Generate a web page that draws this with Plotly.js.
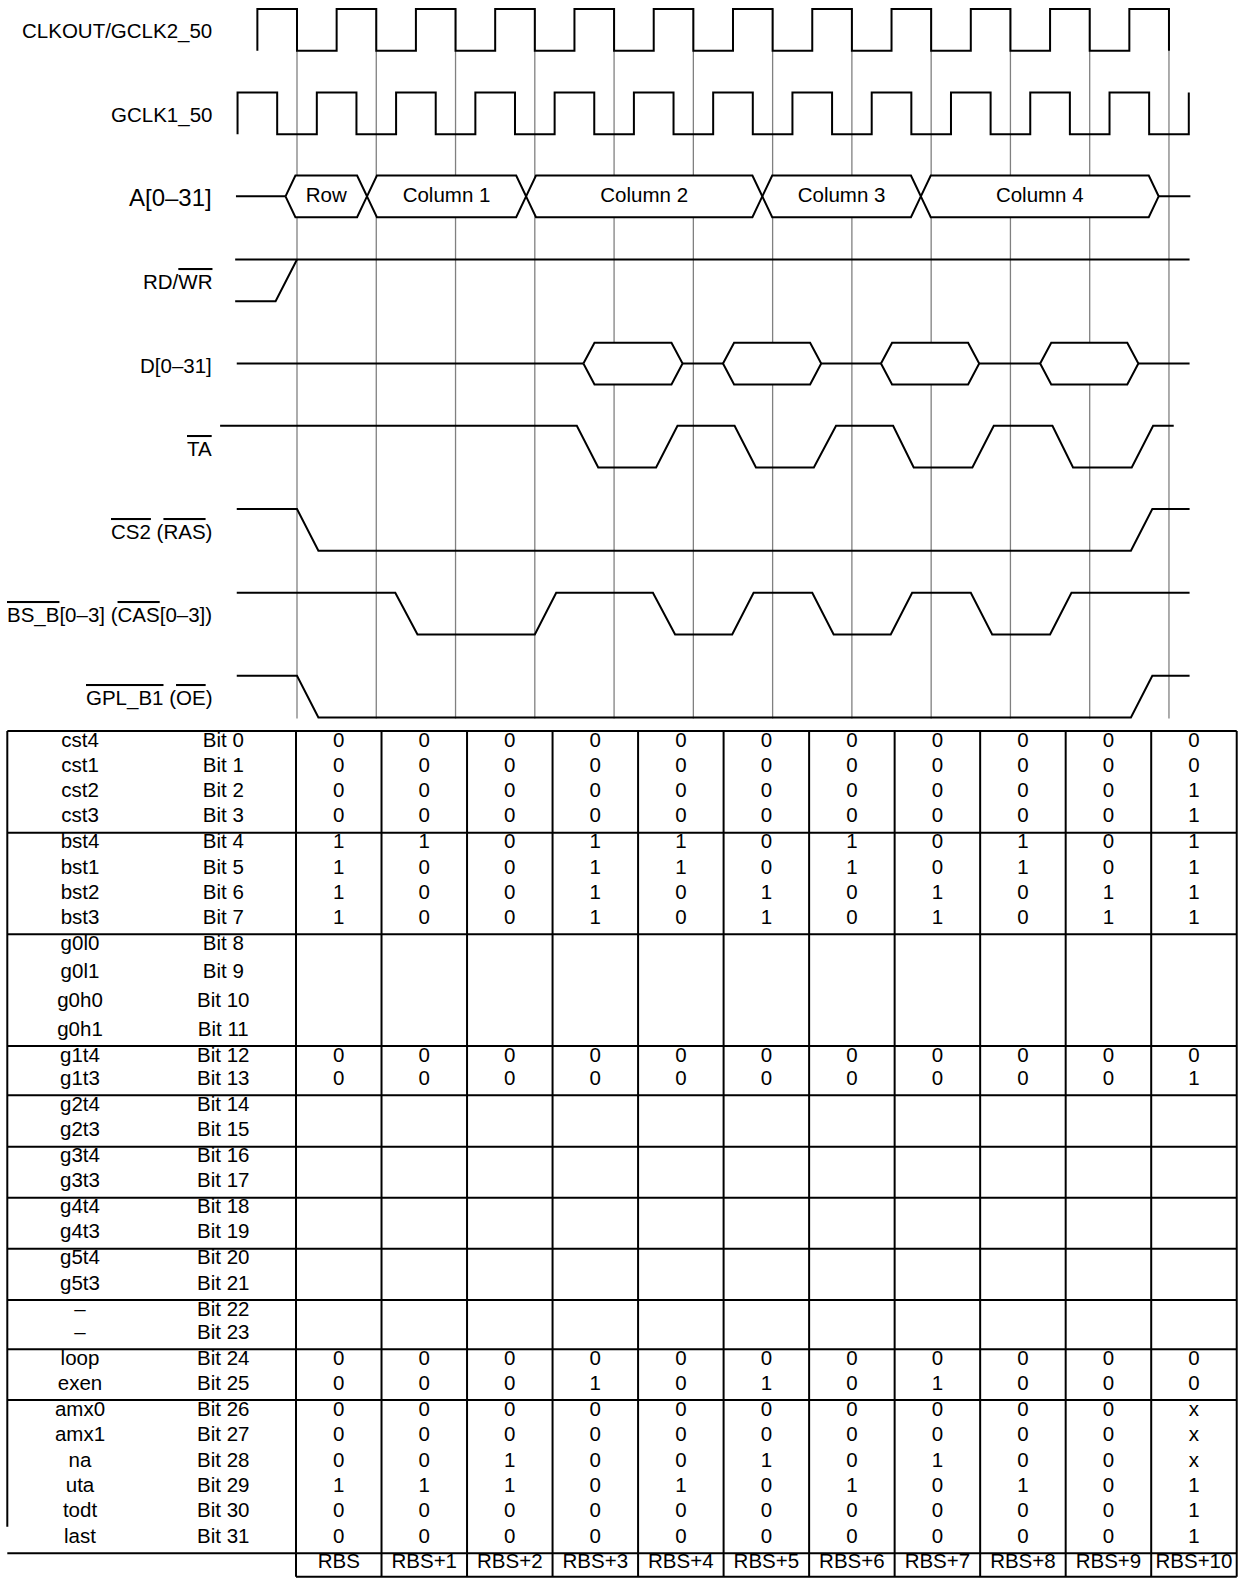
<!DOCTYPE html>
<html><head><meta charset="utf-8">
<script src="https://cdn.plot.ly/plotly-3.0.1.min.js"></script>
<style>html,body{margin:0;padding:0;background:#fff}</style>
</head><body><div id="chart" style="width:1241px;height:1585px"></div>
<script>
// ================= DATA =================
// time unit = one clock period; 0 = first cycle boundary
const gridTimes = [0,1,2,3,4,5,6,7,8,9,10,11];

// clocks (edge times, levels; step drawing)
const clkoutT = [-0.5,-0.5,0,0.5,1,1.5,2,2.5,3,3.5,4,4.5,5,5.5,6,6.5,7,7.5,8,8.5,9,9.5,10,10.5,11];
const clkoutL = [0,1,0,1,0,1,0,1,0,1,0,1,0,1,0,1,0,1,0,1,0,1,0,1,0];
const gclk1T  = [-0.75,-0.75,-0.25,0.25,0.75,1.25,1.75,2.25,2.75,3.25,3.75,4.25,4.75,5.25,5.75,6.25,6.75,7.25,7.75,8.25,8.75,9.25,9.75,10.25,10.75,11.25];
const gclk1L  = [0,1,0,1,0,1,0,1,0,1,0,1,0,1,0,1,0,1,0,1,0,1,0,1,0,1];

// address bus A[0-31]
const aIdle   = [-0.77, 11.27];
const aEdges  = [-0.145, 0.883, 2.89, 5.87, 7.87, 10.87];
const aLabels = ['Row','Column 1','Column 2','Column 3','Column 4'];

// RD/WR
const rdwrHighT = [-0.78, 11.26];
const rdwrHighL = [1, 1];
const rdwrLowT  = [-0.78, -0.27, 0];
const rdwrLowL  = [0, 0, 1];

// data bus D[0-31]
const dIdle  = [-0.76, 11.26];
const dStart = [3.613, 5.374, 7.367, 9.375];
const dEnd   = [4.864, 6.613, 8.606, 10.614];

// TA
const taT = [-0.97,3.53,3.80,4.53,4.80,5.52,5.79,6.52,6.80,7.52,7.78,8.52,8.79,9.53,9.79,10.53,10.80,11.06];
const taL = [1,1,0,0,1,1,0,0,1,1,0,0,1,1,0,0,1,1];
// CS2 (RAS)
const cs2T = [-0.76,0,0.27,10.52,10.79,11.26];
const cs2L = [1,1,0,0,1,1];
// BS_B[0-3] (CAS[0-3])
const bsT = [-0.76,1.24,1.52,3.00,3.27,4.49,4.77,5.49,5.76,6.50,6.77,7.49,7.76,8.50,8.77,9.50,9.77,11.26];
const bsL = [1,1,0,0,1,1,0,0,1,1,0,0,1,1,0,0,1,1];
// GPL_B1 (OE)
const gplT = [-0.76,0,0.27,10.52,10.79,11.26];
const gplL = [1,1,0,0,1,1];

const signalLabels = [
  'CLKOUT/GCLK2_50',
  'GCLK1_50',
  'A[0–31]',
  'RD/<span style="text-decoration:overline">WR</span>',
  'D[0–31]',
  '<span style="text-decoration:overline">TA</span>',
  '<span style="text-decoration:overline">CS2</span> (<span style="text-decoration:overline">RAS</span>)',
  '<span style="text-decoration:overline">BS_B</span>[0–3] (<span style="text-decoration:overline">CAS</span>[0–3])',
  '<span style="text-decoration:overline">GPL_B1</span> (<span style="text-decoration:overline">OE</span>)'
];

// ---- UPM RAM word table ----
const fieldNames = ['cst4','cst1','cst2','cst3','bst4','bst1','bst2','bst3','g0l0','g0l1','g0h0','g0h1',
  'g1t4','g1t3','g2t4','g2t3','g3t4','g3t3','g4t4','g4t3','g5t4','g5t3','–','–',
  'loop','exen','amx0','amx1','na','uta','todt','last'];
const bitNames = ['Bit 0','Bit 1','Bit 2','Bit 3','Bit 4','Bit 5','Bit 6','Bit 7','Bit 8','Bit 9','Bit 10','Bit 11',
  'Bit 12','Bit 13','Bit 14','Bit 15','Bit 16','Bit 17','Bit 18','Bit 19','Bit 20','Bit 21','Bit 22','Bit 23',
  'Bit 24','Bit 25','Bit 26','Bit 27','Bit 28','Bit 29','Bit 30','Bit 31'];
const colLabels = ['RBS','RBS+1','RBS+2','RBS+3','RBS+4','RBS+5','RBS+6','RBS+7','RBS+8','RBS+9','RBS+10'];

const vCst4 = ['0','0','0','0','0','0','0','0','0','0','0'];
const vCst1 = ['0','0','0','0','0','0','0','0','0','0','0'];
const vCst2 = ['0','0','0','0','0','0','0','0','0','0','1'];
const vCst3 = ['0','0','0','0','0','0','0','0','0','0','1'];
const vBst4 = ['1','1','0','1','1','0','1','0','1','0','1'];
const vBst1 = ['1','0','0','1','1','0','1','0','1','0','1'];
const vBst2 = ['1','0','0','1','0','1','0','1','0','1','1'];
const vBst3 = ['1','0','0','1','0','1','0','1','0','1','1'];
const vEmpty = [];
const vG1t4 = ['0','0','0','0','0','0','0','0','0','0','0'];
const vG1t3 = ['0','0','0','0','0','0','0','0','0','0','1'];
const vLoop = ['0','0','0','0','0','0','0','0','0','0','0'];
const vExen = ['0','0','0','1','0','1','0','1','0','0','0'];
const vAmx0 = ['0','0','0','0','0','0','0','0','0','0','x'];
const vAmx1 = ['0','0','0','0','0','0','0','0','0','0','x'];
const vNa   = ['0','0','1','0','0','1','0','1','0','0','x'];
const vUta  = ['1','1','1','0','1','0','1','0','1','0','1'];
const vTodt = ['0','0','0','0','0','0','0','0','0','0','1'];
const vLast = ['0','0','0','0','0','0','0','0','0','0','1'];

const rowValues = [vCst4,vCst1,vCst2,vCst3,vBst4,vBst1,vBst2,vBst3,
  vEmpty,vEmpty,vEmpty,vEmpty,vG1t4,vG1t3,vEmpty,vEmpty,vEmpty,vEmpty,vEmpty,vEmpty,vEmpty,vEmpty,vEmpty,vEmpty,
  vLoop,vExen,vAmx0,vAmx1,vNa,vUta,vTodt,vLast];

// ================= LAYOUT / STYLE =================
const W = 1241, H = 1585;
const T0PX = 297, TPITCH = 79.27;                  // timing x scale
const laneTop = [9, 92.5, 175.5, 259.5, 342.7, 425.8, 509, 592.7, 675.8];
const swing = 41.7;
const gridTop = 9, gridBottom = 718.5;
const labelRightT = -1.055;
const REG = '"Liberation Sans", Arial, Helvetica, sans-serif';
const LW = 2;

const C0PX = 296, CW = 85.52;                      // table x scale
const groupSeps = [731, 832.7, 934.3, 1046, 1095.3, 1146.7, 1197.7, 1248.7, 1300, 1349.3, 1400, 1553.3];
const groupSizes = [4,4,4,2,2,2,2,2,2,2,6];
const leftBorderX = (7.3 - C0PX) / CW;
const leftBorderBottom = 1526.7;
const labelRowBottom = 1576.7;
const labelRowTextY = 1563;
const nameX = (80 - C0PX) / CW, bitX = (223.3 - C0PX) / CW;
const TFONT = 20.5;

// ================= BUILD =================
const yLevel = (k, l) => laneTop[k] + (1 - l) * swing;
const yMid = k => laneTop[k] + swing / 2;
const traces = [];

// vertical reference lines
{
  const x = [], y = [];
  gridTimes.forEach(t => { x.push(t, t, null); y.push(gridTop, gridBottom, null); });
  traces.push({x, y, mode:'lines', line:{color:'#808080', width:1.3}, hoverinfo:'skip'});
}

function busTrace(starts, ends, h, k) {
  const x = [], y = [];
  const top = laneTop[k], bot = laneTop[k] + swing, mid = yMid(k);
  for (let i = 0; i < starts.length; i++) {
    const s = starts[i], e = ends[i];
    x.push(s, s + h, e - h, e, e - h, s + h, s, null);
    y.push(mid, top, top, mid, bot, bot, mid, null);
  }
  return {x, y, mode:'lines', fill:'toself', fillcolor:'#ffffff', line:{color:'#000', width:LW}, hoverinfo:'skip'};
}

// A bus
const aStarts = aEdges.slice(0, -1), aEnds = aEdges.slice(1);
traces.push(busTrace(aStarts, aEnds, 0.125, 2));
traces.push({x:[aIdle[0], aEdges[0], null, aEdges[aEdges.length-1], aIdle[1]],
  y:[yMid(2), yMid(2), null, yMid(2), yMid(2)], mode:'lines', line:{color:'#000', width:LW}, hoverinfo:'skip'});
traces.push({x: aStarts.map((s,i)=> (s + aEnds[i]) / 2), y: aStarts.map(()=>yMid(2) + 1), mode:'text',
  text: aLabels, textposition:'middle center', textfont:{family:REG, size:20.5, color:'#000'}, hoverinfo:'skip', cliponaxis:false});

// D bus
traces.push(busTrace(dStart, dEnd, 0.14, 4));
{
  const x = [], y = [];
  const segS = [dIdle[0]].concat(dEnd), segE = dStart.concat([dIdle[1]]);
  segS.forEach((s,i) => { x.push(s, segE[i], null); y.push(yMid(4), yMid(4), null); });
  traces.push({x, y, mode:'lines', line:{color:'#000', width:LW}, hoverinfo:'skip'});
}

// clocks
traces.push({x: clkoutT, y: clkoutL.map(l=>yLevel(0,l)), mode:'lines', line:{shape:'hv', color:'#000', width:LW}, hoverinfo:'skip'});
traces.push({x: gclk1T, y: gclk1L.map(l=>yLevel(1,l)), mode:'lines', line:{shape:'hv', color:'#000', width:LW}, hoverinfo:'skip'});
// RD/WR
traces.push({x: rdwrHighT, y: rdwrHighL.map(l=>yLevel(3,l)), mode:'lines', line:{color:'#000', width:LW}, hoverinfo:'skip'});
traces.push({x: rdwrLowT, y: rdwrLowL.map(l=>yLevel(3,l)), mode:'lines', line:{color:'#000', width:LW}, hoverinfo:'skip'});
// control signals
[[taT,taL,5],[cs2T,cs2L,6],[bsT,bsL,7],[gplT,gplL,8]].forEach(([t,l,k]) => {
  traces.push({x:t, y:l.map(v=>yLevel(k,v)), mode:'lines', line:{color:'#000', width:LW}, hoverinfo:'skip'});
});

// ---- table ----
const rowY = [];
{
  let r = 0;
  groupSizes.forEach((n, g) => {
    const top = groupSeps[g], h = groupSeps[g+1] - top;
    const pitch = n > 1 ? (h - 26) / (n - 1) : 0;
    for (let i = 0; i < n; i++) rowY[r++] = top + 10.5 + i * pitch;
  });
}
{
  const x = [], y = [];
  const right = colLabels.length;
  groupSeps.forEach(s => { x.push(leftBorderX, right, null); y.push(s, s, null); });
  x.push(leftBorderX, leftBorderX, null); y.push(groupSeps[0], leftBorderBottom, null);
  for (let c = 0; c <= right; c++) { x.push(c, c, null); y.push(groupSeps[0], labelRowBottom, null); }
  x.push(0, right, null); y.push(labelRowBottom, labelRowBottom, null);
  traces.push({x, y, xaxis:'x2', yaxis:'y', mode:'lines', line:{color:'#000', width:2}, hoverinfo:'skip'});
}
{
  const x = [], y = [], text = [];
  fieldNames.forEach((n, r) => { x.push(nameX); y.push(rowY[r]); text.push(n); });
  bitNames.forEach((n, r) => { x.push(bitX); y.push(rowY[r]); text.push(n); });
  rowValues.forEach((vals, r) => vals.forEach((v, c) => { x.push(c + 0.5); y.push(rowY[r]); text.push(v); }));
  colLabels.forEach((lab, c) => { x.push(c + 0.5); y.push(labelRowTextY); text.push(lab); });
  traces.push({x, y, text, xaxis:'x2', yaxis:'y', mode:'text', textposition:'middle center',
    textfont:{family:REG, size:TFONT, color:'#000'}, hoverinfo:'skip', cliponaxis:false});
}

const annotations = signalLabels.map((txt, k) => ({
  x: labelRightT, y: yMid(k) + 1.5, xref:'x', yref:'y', text: txt, showarrow:false,
  xanchor:'right', yanchor:'middle', borderpad:0,
  font: {family:REG, size: k === 2 ? 24 : 20.5, color:'#000'}
}));

const layout = {
  width: W, height: H, margin:{l:0, r:0, t:0, b:0, pad:0},
  paper_bgcolor:'#ffffff', plot_bgcolor:'#ffffff', showlegend:false, hovermode:false,
  xaxis:{range:[-T0PX / TPITCH, (W - T0PX) / TPITCH], visible:false, fixedrange:true},
  xaxis2:{range:[-C0PX / CW, (W - C0PX) / CW], visible:false, overlaying:'x', anchor:'y', fixedrange:true},
  yaxis:{range:[H, 0], visible:false, fixedrange:true},
  annotations
};

Plotly.newPlot('chart', traces, layout, {staticPlot:true, displayModeBar:false});
</script>
</body></html>
